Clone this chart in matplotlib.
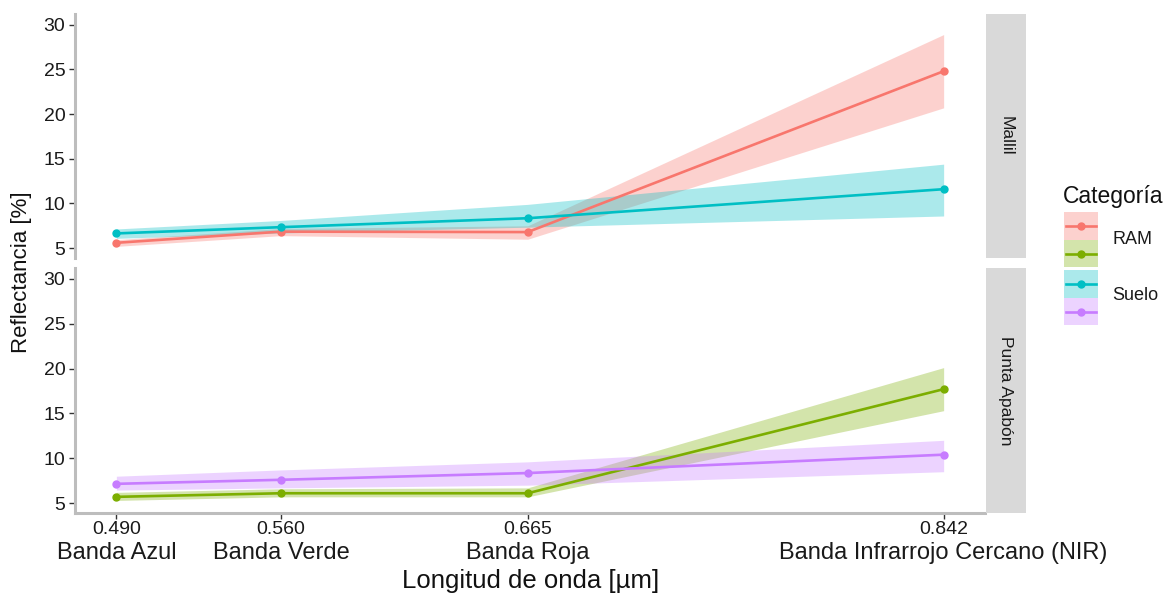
import numpy as np
import matplotlib
matplotlib.use("Agg")
import matplotlib.pyplot as plt
from matplotlib.patches import Rectangle
from matplotlib.transforms import blended_transform_factory

plt.rcParams['font.family'] = ['Liberation Sans', 'DejaVu Sans']

# Longitudes de onda (um) y nombres de banda
wl = [0.490, 0.560, 0.665, 0.842]
wl_labels = ["0.490", "0.560", "0.665", "0.842"]
band_names = ["Banda Azul", "Banda Verde", "Banda Roja", "Banda Infrarrojo Cercano (NIR)"]

# Mallil
ram_mallil = [5.6, 6.85, 6.8, 24.8]
ram_mallil_lo = [5.2, 6.4, 6.0, 20.7]
ram_mallil_hi = [5.95, 7.2, 7.5, 28.9]
suelo_mallil = [6.65, 7.35, 8.35, 11.6]
suelo_mallil_lo = [6.1, 6.7, 7.35, 8.6]
suelo_mallil_hi = [7.15, 8.1, 9.9, 14.4]

# Punta Apabón
ram_punta = [5.7, 6.1, 6.1, 17.7]
ram_punta_lo = [5.3, 5.7, 5.7, 15.3]
ram_punta_hi = [6.2, 6.6, 6.7, 20.1]
suelo_punta = [7.15, 7.6, 8.35, 10.4]
suelo_punta_lo = [6.45, 6.7, 7.0, 8.5]
suelo_punta_hi = [8.0, 8.7, 9.6, 12.0]

sites = ["Mallil", "Punta Apabón"]
colors = ["#F8766D", "#7CAE00", "#00BFC4", "#C77CFF"]

panels = [
    [(ram_mallil, ram_mallil_lo, ram_mallil_hi, colors[0]),
     (suelo_mallil, suelo_mallil_lo, suelo_mallil_hi, colors[2])],
    [(ram_punta, ram_punta_lo, ram_punta_hi, colors[1]),
     (suelo_punta, suelo_punta_lo, suelo_punta_hi, colors[3])],
]

W, H = 1168, 594
fig = plt.figure(figsize=(W / 100, H / 100), dpi=100)


def px_axes(x0, y0, x1, y1):
    return fig.add_axes([x0 / W, 1 - y1 / H, (x1 - x0) / W, (y1 - y0) / H])


axis_grey = "#BDBDBD"
panel_rows = [(14, 258), (268, 513)]

for i, (y0, y1) in enumerate(panel_rows):
    ax = px_axes(75, y0, 985, y1)
    for mean, lo, hi, c in panels[i]:
        ax.fill_between(wl, lo, hi, color=c, alpha=0.33, lw=0)
        ax.plot(wl, mean, color=c, lw=1.9, marker="o", ms=5, zorder=3)
    ax.set_xlim(0.4724, 0.8596)
    ax.set_ylim(3.9, 31.2)
    ax.set_yticks([5, 10, 15, 20, 25, 30])
    for s in ["top", "right"]:
        ax.spines[s].set_visible(False)
    ax.spines["left"].set_color(axis_grey)
    ax.spines["left"].set_linewidth(2.2)
    ax.tick_params(axis="y", labelsize=14, colors="#333333", labelcolor="#1A1A1A",
                   length=4, width=1, pad=3)
    if i == 1:
        ax.spines["bottom"].set_color(axis_grey)
        ax.spines["bottom"].set_linewidth(2.2)
        ax.set_xticks(wl)
        ax.set_xticklabels(wl_labels)
        ax.tick_params(axis="x", labelsize=14, colors="#333333", labelcolor="#1A1A1A",
                       length=4, width=1, pad=2)
        tr = blended_transform_factory(ax.transData, ax.transAxes)
        for x, name in zip(wl, band_names):
            ax.text(x, -0.12, name, transform=tr, ha="center", va="top",
                    fontsize=17, color="#1A1A1A")
    else:
        ax.spines["bottom"].set_visible(False)
        ax.set_xticks([])

    # tira del facet
    sx = px_axes(986, y0, 1026, y1)
    sx.set_xticks([])
    sx.set_yticks([])
    for s in sx.spines.values():
        s.set_visible(False)
    sx.set_facecolor("#D9D9D9")
    sx.text(0.5, 0.5, sites[i], rotation=270, ha="center", va="center",
            fontsize=12.5, color="#1A1A1A", transform=sx.transAxes)

fig.text(22 / W, 1 - 272 / H, "Reflectancia [%]", rotation=90, ha="center",
         va="center", fontsize=16, color="#111111")
fig.text(531 / W, 1 - 581 / H, "Longitud de onda [µm]", ha="center", va="center",
         fontsize=18.5, color="#111111")

# leyenda
lg = fig.add_axes([0, 0, 1, 1], facecolor="none")
lg.set_xlim(0, W)
lg.set_ylim(H, 0)
lg.axis("off")
lg.text(1063, 197, "Categoría", ha="left", va="center", fontsize=16.5, color="#111111")
key_tops = [212, 240, 270, 298]
key_h = [28, 27, 28, 27]
for top, h, c in zip(key_tops, key_h, colors):
    lg.add_patch(Rectangle((1064, top), 34, h, facecolor=c, alpha=0.33, lw=0))
    lg.plot([1066, 1096], [top + h / 2] * 2, color=c, lw=1.9)
    lg.plot([1081], [top + h / 2], color=c, marker="o", ms=5)
lg.text(1112, 240, "RAM", ha="left", va="center", fontsize=13, color="#1A1A1A")
lg.text(1112, 296, "Suelo", ha="left", va="center", fontsize=13, color="#1A1A1A")

fig.savefig("out.png", dpi=100)
